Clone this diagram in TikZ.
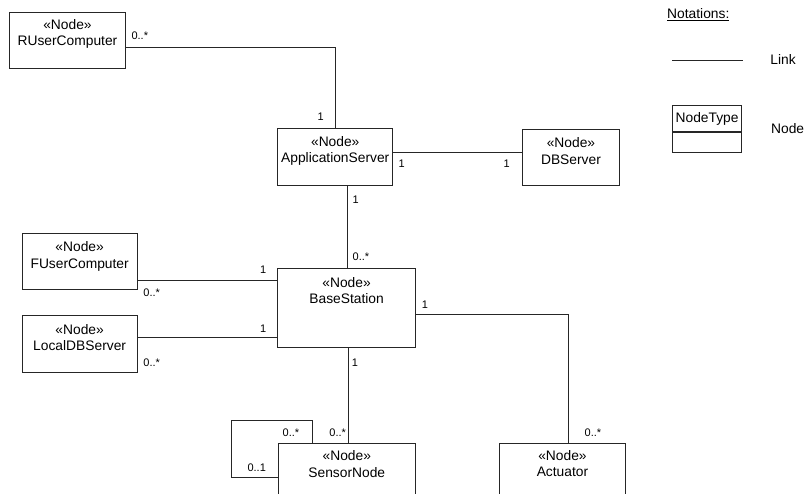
\documentclass[tikz,border=0pt]{standalone}
\usepackage{fontspec}
\setmainfont{Liberation Sans}
\usetikzlibrary{positioning}
\tikzset{
x=1pt, y=-1pt, % one unit is one pixel of the drawing, y going down
devbox/.style={draw, rectangle, inner sep=0pt, anchor=north west}, % the box of a deployment node
devtext/.style={align=center, font=\fontsize{13.8}{16.5}\selectfont}, % the stereotype and name
mult/.style={inner sep=0pt, font=\fontsize{11}{13}\selectfont}, % multiplicity labels
legend/.style={inner sep=0pt, font=\fontsize{13.8}{16.5}\selectfont},
}

\begin{document}
\begin{tikzpicture}[draw=black!85, line width=0.9pt]
    \useasboundingbox (0,0) rectangle (807,494);
    \clip (0,0) rectangle (807,494);

    % deployment nodes
    \node[devbox, minimum width=116, minimum height=56] (RUC) at (9,12) {};
    \node[devtext] (RUCt) at ([yshift=-22]RUC.north) {«Node»\\RUserComputer};
    \node[devbox, minimum width=115, minimum height=56.7] (AS) at (277.3,128.3) {};
    \node[devtext] (ASt) at ([yshift=-22.4]AS.north) {«Node»\\ApplicationServer};
    \node[devbox, minimum width=97, minimum height=56] (DB) at (522,129) {};
    \node[devtext] (DBt) at ([yshift=-22]DB.north) {«Node»\\DBServer};
    \node[devbox, minimum width=137.7, minimum height=79] (BS) at (277.3,268.3) {};
    \node[devtext] (BSt) at ([yshift=-22.4]BS.north) {«Node»\\BaseStation};
    \node[devbox, minimum width=115, minimum height=56] (FUC) at (21.7,233.3) {};
    \node[devtext] (FUCt) at ([yshift=-23]FUC.north) {«Node»\\FUserComputer};
    \node[devbox, minimum width=115, minimum height=56.7] (LDB) at (21.7,315) {};
    \node[devtext] (LDBt) at ([yshift=-22.5]LDB.north) {«Node»\\LocalDBServer};
    \node[devbox, minimum width=137.3, minimum height=79] (SN) at (277.7,443.3) {};
    \node[devtext] (SNt) at ([yshift=-21]SN.north) {«Node»\\SensorNode};
    \node[devbox, minimum width=126, minimum height=79] (ACT) at (499,442.7) {};
    \node[devtext] (ACTt) at ([yshift=-21]ACT.north) {«Node»\\Actuator};

    % links
    \draw ([yshift=-7.3]RUC.east) -| (AS.north);
    \draw ([yshift=5]AS.east) -- ([yshift=5]AS.east -| DB.west);
    \draw ([xshift=12.5]AS.south) -- ([xshift=12.5]AS.south |- BS.north);
    \draw ([yshift=-19]FUC.east) -- ([yshift=-19]FUC.east -| BS.west);
    \draw ([yshift=6]LDB.east) -- ([yshift=6]LDB.east -| BS.west);
    \draw ([yshift=-6.5]BS.east) -| ([xshift=6.3]ACT.north);
    \draw ([xshift=1.4]BS.south) -- ([xshift=1.4]BS.south |- SN.north);
    \draw ([xshift=-34]SN.north) -- ++(0,-23.3) -| ++(-81.6,57.3) coordinate (loopend) -- (loopend -| SN.west);

    % multiplicities
    \node[mult] (m1) at (139.8,36) {0..*};
    \node[mult] (m2) at (320.7,117) {1};
    \node[mult] (m3) at (401.7,164) {1};
    \node[mult] (m4) at (506.7,164) {1};
    \node[mult] (m5) at (355.7,199.3) {1};
    \node[mult] (m6) at (361,256.7) {0..*};
    \node[mult] (m7) at (263.3,270) {1};
    \node[mult] (m8) at (151.7,292.3) {0..*};
    \node[mult] (m9) at (263.3,328.3) {1};
    \node[mult] (m10) at (151.7,362.7) {0..*};
    \node[mult] (m11) at (425,304.3) {1};
    \node[mult] (m12) at (593,432.7) {0..*};
    \node[mult] (m13) at (355,362.7) {1};
    \node[mult] (m14) at (337.7,432.7) {0..*};
    \node[mult] (m15) at (291,432.7) {0..*};
    \node[mult] (m16) at (256.7,467.3) {0..1};

    % notations
    \node[legend] (NOT) at (698.3,14.3) {\underline{Notations:}};
    \coordinate (LKa) at (672.3,60);
    \coordinate (LKb) at (743.3,60);
    \draw (LKa) -- (LKb);
    \node[legend, anchor=west] (LK) at (770,60) {Link};
    \node[devbox, minimum width=68.7, minimum height=25.4, inner xsep=1pt] (NT) at (672.3,105.3) {\fontsize{13.8}{16.5}\selectfont NodeType};
    \node[draw, rectangle, inner sep=0pt, minimum width=68.7, minimum height=20, below=0pt of NT] (NTb) {};
    \node[legend, anchor=west] (ND) at (770.7,128.3) {Node};
\end{tikzpicture}
\end{document}
